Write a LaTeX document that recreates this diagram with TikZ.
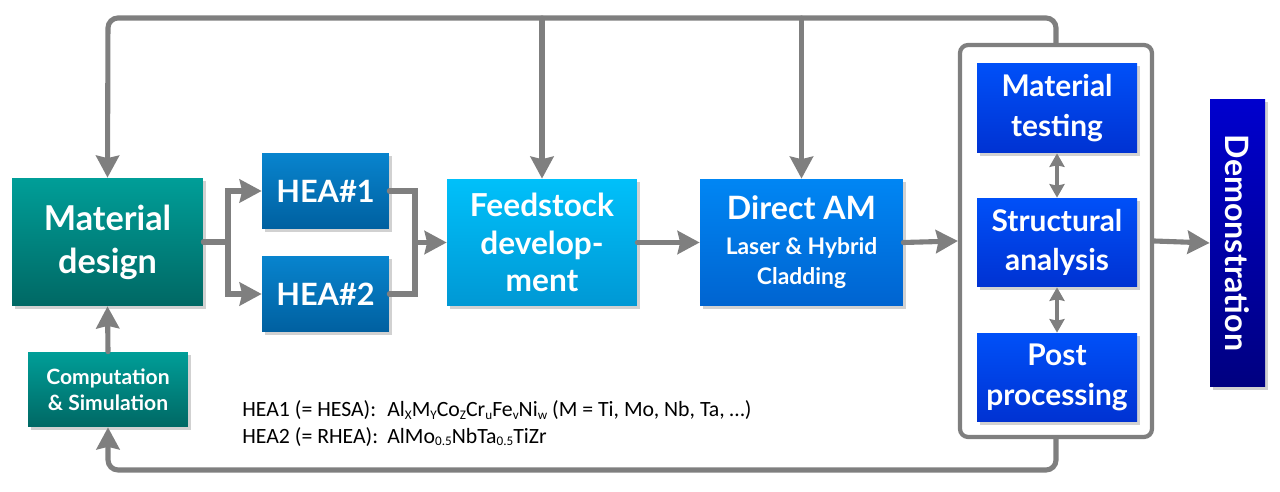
\documentclass[tikz,border=0pt]{standalone}
\usepackage{fontspec}
\setmainfont{Lato}
\newfontfamily\notefont{Carlito}
\usetikzlibrary{arrows.meta, shadows}
\definecolor{linegray}{HTML}{7F7F7F}
\newcommand{\alsub}[1]{\raisebox{-0.25ex}{\fontsize{7.5}{8}\selectfont #1}}
\tikzset{
    box/.style={
        rectangle,
        draw=none,
        text=white,
        align=center,
        inner sep=0,
        drop shadow={shadow xshift=0.06cm, shadow yshift=-0.06cm, opacity=0.3, fill=black!60}, % 阴影
        font=\bfseries
    },
    tealbox/.style={
        box,
        top color={rgb,255:red,0;green,158;blue,152}, % 顶部颜色
        bottom color={rgb,255:red,0;green,104;blue,100} % 底部颜色
    },
    heabox/.style={
        box,
        top color={rgb,255:red,8;green,132;blue,206},
        bottom color={rgb,255:red,0;green,96;blue,160}
    },
    feedbox/.style={
        box,
        top color={rgb,255:red,0;green,192;blue,250},
        bottom color={rgb,255:red,0;green,152;blue,212}
    },
    ambox/.style={
        box,
        top color={rgb,255:red,0;green,134;blue,244},
        bottom color={rgb,255:red,0;green,100;blue,208}
    },
    testbox/.style={
        box,
        top color={rgb,255:red,0;green,80;blue,248},
        bottom color={rgb,255:red,0;green,50;blue,210}
    },
    notetext/.style={
        anchor=west,
        inner sep=0,
        font=\notefont\fontsize{12.4}{14}\selectfont
    },
    flow/.style={
        draw=linegray,
        line width=2.9pt,
        line cap=round,
        -{Stealth[length=0.44cm, width=0.46cm, inset=0.05cm]}
    },
    plainline/.style={
        draw=linegray,
        line width=2.9pt,
        line cap=round
    },
    twoway/.style={
        draw=linegray,
        line width=1.8pt,
        {Stealth[length=0.27cm, width=0.3cm, inset=0.03cm]}-{Stealth[length=0.27cm, width=0.3cm, inset=0.03cm]}
    }
}

\begin{document}
\begin{tikzpicture}[x=0.02cm, y=-0.02cm]
    \useasboundingbox (0,0) rectangle (1280,492);

    % boxes
    \node[tealbox, minimum width=3.82cm, minimum height=2.56cm,
          font=\bfseries\fontsize{19.5}{24.5}\selectfont] (md) at (107.5,242) {Material\\design};
    \node[tealbox, minimum width=3.2cm, minimum height=1.5cm,
          font=\bfseries\fontsize{12}{15}\selectfont] (cs) at (108,389.5) {Computation\\\& Simulation};
    \node[heabox, minimum width=2.54cm, minimum height=1.52cm,
          font=\bfseries\fontsize{17.5}{20}\selectfont] (h1) at (325.5,191) {HEA\#1};
    \node[heabox, minimum width=2.54cm, minimum height=1.52cm,
          font=\bfseries\fontsize{17.5}{20}\selectfont] (h2) at (325.5,294) {HEA\#2};
    \node[feedbox, minimum width=3.8cm, minimum height=2.54cm,
          font=\bfseries\fontsize{18}{21.5}\selectfont] (fs) at (542,242.5) {Feedstock\\develop-\\ment};
    \node[ambox, minimum width=4.06cm, minimum height=2.54cm,
          font=\bfseries\fontsize{13}{17}\selectfont] (am) at (801.5,242.5)
          {{\fontsize{18.3}{20}\selectfont Direct AM}\\[3pt]Laser \& Hybrid\\Cladding};

    \node[draw=linegray, line width=2.4pt, rounded corners=0.16cm,
          minimum width=3.84cm, minimum height=7.84cm] (ring) at (1056,241) {};
    \node[testbox, minimum width=3.2cm, minimum height=1.8cm,
          font=\bfseries\fontsize{17}{22.5}\selectfont] (mt) at (1057,108) {Material\\testing};
    \node[testbox, minimum width=3.2cm, minimum height=1.78cm,
          font=\bfseries\fontsize{17}{22.5}\selectfont] (sa) at (1057,242.5) {Structural\\analysis};
    \node[testbox, minimum width=3.2cm, minimum height=1.78cm,
          font=\bfseries\fontsize{17}{22.5}\selectfont] (pp) at (1057,377.5) {Post\\processing};

    \node[box, rotate=-90, minimum width=5.76cm, minimum height=1.1cm,
          top color={rgb,255:red,0;green,0;blue,206},
          bottom color={rgb,255:red,0;green,0;blue,128},
          font=\bfseries\fontsize{18.3}{20}\selectfont] (demo) at (1237.5,243) {Demonstration};

    % alloy notes
    \node[notetext] (n1) at (242,410) {HEA1 (= HESA):};
    \node[notetext] (n2) at (242,437) {HEA2 (= RHEA):};
    \node[notetext] (f1) at (387,410)
          {Al\alsub{X}M\alsub{Y}Co\alsub{Z}Cr\alsub{u}Fe\alsub{v}Ni\alsub{w} (M = Ti, Mo, Nb, Ta, …)};
    \node[notetext] (f2) at (387,437)
          {AlMo\alsub{0.5}NbTa\alsub{0.5}TiZr};

    % connectors
    \coordinate (topL) at (108,18);
    \coordinate (botL) at (108,470);
    \coordinate (split) at (228,242);
    \coordinate (merge) at (415,242.5);

    \draw[flow, rounded corners=0.2cm] (ring.north) |- (topL) -- (md.north);
    \draw[flow] (fs.north |- topL) -- (fs.north);
    \draw[flow] (am.north |- topL) -- (am.north);
    \draw[flow, rounded corners=0.2cm] (ring.south) |- (botL) -- (cs.south);
    \draw[flow] (cs.north) -- (md.south);

    \draw[plainline] (md.east) -- (split);
    \draw[flow] (split) |- (h1.west);
    \draw[flow] (split) |- (h2.west);
    \draw[plainline] (h1.east) -| (merge);
    \draw[plainline] (h2.east) -| (merge);
    \draw[flow] (merge) -- (fs.west);

    \draw[flow] (fs.east) -- (am.west);
    \draw[flow] (am.east) -- (ring.west);
    \draw[flow] (ring.east) -- (demo.south);

    \draw[twoway] (mt.south) -- (sa.north);
    \draw[twoway] (sa.south) -- (pp.north);
\end{tikzpicture}
\end{document}
